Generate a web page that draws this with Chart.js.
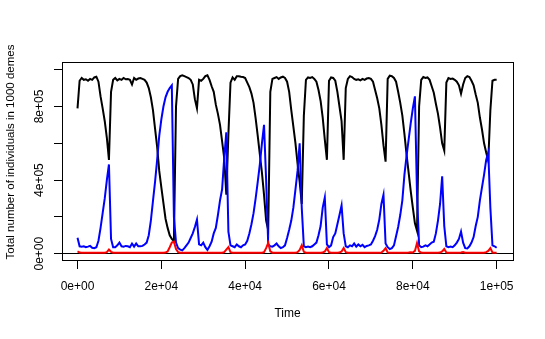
<!DOCTYPE html>
<html>
<head>
	<meta charset="utf-8">
	<title>Demes</title>
	<style>
		html, body { margin: 0; padding: 0; background: #fff; }
		canvas { display: block; }
	</style>
</head>
<body>
	<canvas id="myChart" width="545" height="339"></canvas>
	<script type="text/javascript" src="https://cdn.jsdelivr.net/npm/chart.js@4.4.0/dist/chart.umd.min.js"></script>
	<script type="text/javascript">
		// Time, in thousands
		let time = [
			0, 0.5, 1, 1.5, 2, 2.5, 3, 3.5, 4, 4.5,
			5, 5.5, 6, 6.5, 7, 7.5, 8, 8.5, 9, 9.5,
			10, 10.5, 11, 11.5, 12, 12.5, 13, 13.5, 14, 14.5,
			15, 15.5, 16, 16.5, 17, 17.5, 18, 18.5, 19, 19.5,
			20, 20.5, 21, 21.5, 22, 22.5, 23, 23.5, 24, 24.5,
			25, 25.5, 26, 26.5, 27, 27.5, 28, 28.5, 29, 29.5,
			30, 30.5, 31, 31.5, 32, 32.5, 33, 33.5, 34, 34.5,
			35, 35.5, 36, 36.5, 37, 37.5, 38, 38.5, 39, 39.5,
			40, 40.5, 41, 41.5, 42, 42.5, 43, 43.5, 44, 44.5,
			45, 45.5, 46, 46.5, 47, 47.5, 48, 48.5, 49, 49.5,
			50, 50.5, 51, 51.5, 52, 52.5, 53, 53.5, 54, 54.5,
			55, 55.5, 56, 56.5, 57, 57.5, 58, 58.5, 59, 59.5,
			60, 60.5, 61, 61.5, 62, 62.5, 63, 63.5, 64, 64.5,
			65, 65.5, 66, 66.5, 67, 67.5, 68, 68.5, 69, 69.5,
			70, 70.5, 71, 71.5, 72, 72.5, 73, 73.5, 74, 74.5,
			75, 75.5, 76, 76.5, 77, 77.5, 78, 78.5, 79, 79.5,
			80, 80.5, 81, 81.5, 82, 82.5, 83, 83.5, 84, 84.5,
			85, 85.5, 86, 86.5, 87, 87.5, 88, 88.5, 89, 89.5,
			90, 90.5, 91, 91.5, 92, 92.5, 93, 93.5, 94, 94.5,
			95, 95.5, 96, 96.5, 97, 97.5, 98, 98.5, 99, 99.5,
			100
		];

		// Individuals, in thousands
		let black = [
			790, 940, 955, 945, 948, 940, 950, 945, 958, 962,
			935, 855, 790, 720, 630, 510, 880, 945, 955, 942,
			950, 945, 955, 948, 950, 945, 920, 955, 945, 952,
			955, 950, 945, 930, 900, 850, 780, 680, 580, 450,
			360, 275, 190, 140, 100, 80, 68, 800, 950, 965,
			970, 965, 960, 955, 945, 920, 840, 790, 945, 940,
			950, 965, 970, 945, 910, 880, 810, 760, 700, 610,
			520, 320, 650, 930, 958, 945, 965, 965, 962, 960,
			955, 930, 905, 870, 820, 735, 640, 540, 440, 320,
			180, 128, 880, 950, 955, 960, 950, 958, 962, 955,
			935, 880, 780, 690, 600, 490, 390, 270, 750, 945,
			958, 955, 960, 950, 935, 890, 830, 740, 620, 510,
			940, 958, 955, 940, 880, 800, 720, 510, 900, 950,
			965, 960, 950, 945, 948, 942, 950, 945, 952, 955,
			950, 935, 890, 845, 790, 700, 590, 500, 950, 968,
			965, 955, 935, 880, 820, 750, 650, 540, 440, 340,
			250, 165, 125, 800, 945, 960, 955, 958, 945, 910,
			875, 815, 760, 685, 600, 560, 930, 955, 950, 952,
			945, 935, 915, 870, 920, 955, 965, 960, 940, 915,
			865, 820, 740, 675, 600, 550, 505, 780, 940, 945,
			945
		];

		let blue = [
			86, 40, 38, 40, 35, 38, 42, 32, 30, 35,
			70, 140, 220, 300, 400, 485, 80, 35, 35, 45,
			60, 40, 38, 42, 40, 35, 55, 38, 55, 40,
			40, 42, 50, 60, 100, 180, 285, 390, 510, 640,
			730, 800, 850, 880, 900, 915, 200, 60, 30, 22,
			18, 30, 45, 60, 85, 110, 145, 185, 50, 45,
			60, 35, 20, 40, 65, 110, 140, 210, 290, 350,
			520, 660, 120, 45, 40, 35, 50, 40, 35, 45,
			50, 70, 110, 160, 220, 300, 390, 486, 600, 700,
			400, 50, 40, 38, 45, 55, 40, 30, 35, 45,
			85, 130, 180, 250, 350, 450, 600, 250, 40, 35,
			38, 35, 40, 50, 60, 100, 150, 250, 305, 50,
			35, 45, 90, 110, 160, 210, 262, 110, 40, 35,
			45, 40, 55, 38, 50, 40, 48, 35, 42, 45,
			50, 70, 95, 130, 185, 270, 320, 55, 35, 25,
			30, 45, 95, 145, 210, 290, 430, 530, 620, 710,
			790, 855, 320, 45, 35, 38, 45, 40, 50, 60,
			65, 110, 180, 270, 420, 150, 40, 35, 38, 35,
			45, 60, 80, 120, 60, 30, 28, 40, 60, 90,
			150, 200, 290, 360, 430, 510, 550, 250, 45, 40,
			32
		];

		let red = [
			12, 6, 5, 5, 5, 5, 5, 5, 5, 5,
			5, 5, 5, 5, 8, 22, 10, 5, 5, 5,
			5, 5, 5, 5, 5, 5, 5, 5, 5, 5,
			5, 5, 5, 5, 5, 5, 5, 5, 5, 5,
			5, 5, 6, 12, 35, 60, 65, 25, 8, 5,
			5, 5, 5, 5, 5, 5, 5, 5, 5, 5,
			5, 5, 5, 5, 5, 5, 5, 5, 5, 5,
			8, 22, 35, 8, 5, 5, 5, 5, 5, 5,
			5, 5, 5, 5, 5, 5, 5, 5, 5, 8,
			30, 58, 12, 5, 5, 5, 5, 5, 5, 5,
			5, 5, 5, 5, 5, 8, 20, 45, 10, 5,
			5, 5, 5, 5, 5, 5, 5, 6, 12, 30,
			8, 5, 5, 5, 5, 6, 12, 30, 8, 5,
			5, 5, 5, 5, 5, 5, 5, 5, 5, 5,
			5, 5, 5, 5, 5, 6, 15, 30, 6, 5,
			5, 5, 5, 5, 5, 5, 5, 5, 6, 8,
			6, 15, 58, 12, 5, 5, 5, 5, 5, 5,
			5, 5, 5, 6, 12, 25, 6, 5, 5, 5,
			5, 5, 5, 6, 9, 5, 5, 5, 5, 5,
			5, 5, 5, 5, 5, 8, 15, 30, 6, 5,
			5
		];

		let xTicks = [0, 20, 40, 60, 80, 100];
		let xTickLabels = ["0e+00", "2e+04", "4e+04", "6e+04", "8e+04", "1e+05"];
		let yTicks = [0, 200, 400, 600, 800, 1000];
		let yTickLabels = ["0e+00", "", "4e+05", "", "8e+05", ""];
		let yTitle = "Total number of individuals in 1000 demes";

		let font = { family: "'Liberation Sans', Arial, Helvetica, sans-serif", size: 12 };

		// R-style box round the plot region, and the y label as R places it
		let framePlugin = {
			id: "frame",
			afterDraw(chart) {
				let a = chart.chartArea;
				let c = chart.ctx;
				c.save();
				c.strokeStyle = "#000";
				c.lineWidth = 1;
				c.strokeRect(a.left + 0.5, a.top + 0.5, a.right - a.left, a.bottom - a.top - 1);

				c.translate(10.5, 152);
				c.rotate(-Math.PI / 2);
				c.fillStyle = "#000";
				c.font = "11.5px " + font.family;
				c.textAlign = "center";
				c.textBaseline = "middle";
				c.fillText(yTitle, 0, 0);
				c.restore();
			}
		};

		function series(values, colour) {
			return {
				data: values,
				borderColor: colour,
				backgroundColor: colour,
				borderWidth: 2,
				pointRadius: 0,
				tension: 0,
				fill: false,
			};
		}

		let config = {
			type: "line",
			data: {
				labels: time,
				datasets: [
					series(red, "#ff0000"),
					series(blue, "#0000ff"),
					series(black, "#000000"),
				],
			},
			options: {
				responsive: false,
				animation: false,
				devicePixelRatio: 1,
				layout: { padding: { left: 0, right: 32, top: 62, bottom: 0 } },
				plugins: {
					legend: { display: false },
					tooltip: { enabled: false },
				},
				scales: {
					x: {
						type: "linear",
						min: -3.7,
						max: 103.9,
						afterBuildTicks: (s) => { s.ticks = xTicks.map((v) => ({ value: v })); },
						afterFit: (s) => { s.height = 78; },
						border: { display: false },
						grid: { drawOnChartArea: false, tickLength: 8, tickColor: "#000", color: "#000" },
						ticks: {
							autoSkip: false,
							maxRotation: 0,
							padding: 10,
							color: "#000",
							font: font,
							callback: (v, i) => xTickLabels[i],
						},
						title: { display: true, text: "Time", color: "#000", font: font, padding: { top: 0, bottom: 18 } },
					},
					y: {
						type: "linear",
						min: -40,
						max: 1042,
						afterBuildTicks: (s) => { s.ticks = yTicks.map((v) => ({ value: v })); },
						afterFit: (s) => { s.width = 62; },
						border: { display: false },
						grid: {
							drawOnChartArea: true,
							tickLength: 8,
							tickColor: "#000",
							color: (ctx) => (ctx.tick && ctx.tick.value === 0 ? "#000" : "rgba(0,0,0,0)"),
						},
						ticks: {
							autoSkip: false,
							minRotation: 90,
							maxRotation: 90,
							crossAlign: "center",
							padding: -3,
							color: "#000",
							font: font,
							callback: (v, i) => yTickLabels[i],
						},
					},
				},
			},
			plugins: [framePlugin],
		};

		let myChart = new Chart(document.getElementById("myChart").getContext("2d"), config);
	</script>
</body>
</html>
